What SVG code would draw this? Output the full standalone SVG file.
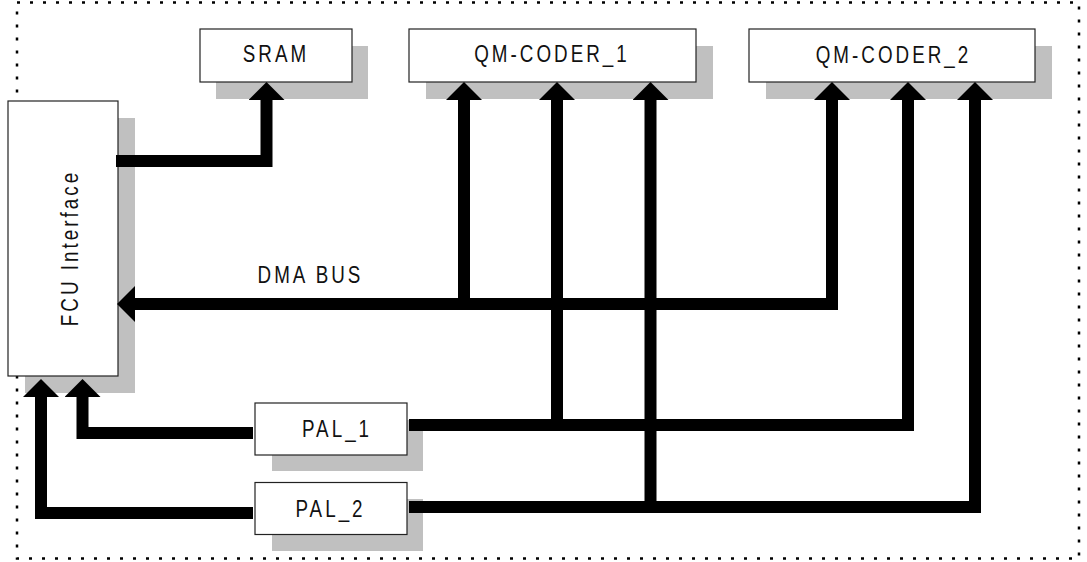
<svg xmlns="http://www.w3.org/2000/svg" width="1087" height="562" viewBox="0 0 1087 562">
<style>
.shadow{fill:#c0c0c0;stroke:none}
.box{fill:#fff;stroke:#222;stroke-width:1.2}
.lbl{font-family:"Liberation Sans",Arial,sans-serif;font-size:23.5px;fill:#111;letter-spacing:3.8px;text-anchor:middle}
.wire{fill:none;stroke:#000;stroke-width:12;stroke-linejoin:miter;stroke-linecap:butt}
.frame{fill:none;stroke:#000;stroke-width:2.5;stroke-dasharray:3 10}
</style>
<defs>
<marker id="ah" markerUnits="userSpaceOnUse" markerWidth="18" markerHeight="36" viewBox="0 -17 17 34" refX="0" refY="0" orient="auto-start-reverse">
<path d="M0,-17 L17,0 L0,17 z" fill="#000"/>
</marker>
</defs>
<rect class="frame" x="17" y="2.5" width="1062" height="556"/>
<g id="node-sram">
<rect class="shadow" x="216" y="46" width="152" height="53"/>
<rect class="box" x="200" y="29" width="152" height="53"/>
<text class="lbl" transform="translate(276,61.5) scale(0.8,1)">SRAM</text>
</g>
<g id="node-qm1">
<rect class="shadow" x="426" y="46" width="287" height="53"/>
<rect class="box" x="409" y="29" width="287" height="53"/>
<text class="lbl" transform="translate(552,62) scale(0.8,1)">QM-CODER_1</text>
</g>
<g id="node-qm2">
<rect class="shadow" x="766" y="46" width="286" height="53"/>
<rect class="box" x="749" y="29" width="286" height="53"/>
<text class="lbl" transform="translate(893.5,62.5) scale(0.8,1)">QM-CODER_2</text>
</g>
<g id="node-fcu">
<rect class="shadow" x="25" y="118" width="110" height="275"/>
<rect class="box" x="8" y="101" width="110" height="275"/>
<text class="lbl" transform="translate(77.5,248) rotate(-90) scale(0.8,1)">FCU Interface</text>
</g>
<g id="node-pal1">
<rect class="shadow" x="272" y="420" width="151" height="51"/>
<rect class="box" x="255" y="403" width="152" height="52"/>
<text class="lbl" transform="translate(337,437) scale(0.8,1)">PAL_1</text>
</g>
<g id="node-pal2">
<rect class="shadow" x="272" y="499" width="151" height="52"/>
<rect class="box" x="255" y="482.5" width="152" height="52"/>
<text class="lbl" transform="translate(330.5,516.5) scale(0.8,1)">PAL_2</text>
</g>
<g id="connectors">
<path class="wire" d="M116,161 H266.5 V100" marker-end="url(#ah)"/>
<path class="wire" d="M832,100 V304 H135" marker-start="url(#ah)" marker-end="url(#ah)"/>
<path class="wire" d="M464,304 V100" marker-end="url(#ah)"/>
<path class="wire" d="M253,433 H82.5 V397" marker-end="url(#ah)"/>
<path class="wire" d="M253,513 H41 V397" marker-end="url(#ah)"/>
<path class="wire" d="M409,425 H908 V100" marker-end="url(#ah)"/>
<path class="wire" d="M557,425 V100" marker-end="url(#ah)"/>
<path class="wire" d="M409,507 H975 V100" marker-end="url(#ah)"/>
<path class="wire" d="M650.5,507 V100" marker-end="url(#ah)"/>
<text class="lbl" transform="translate(310.5,282.5) scale(0.8,1)">DMA BUS</text>
</g>
</svg>
